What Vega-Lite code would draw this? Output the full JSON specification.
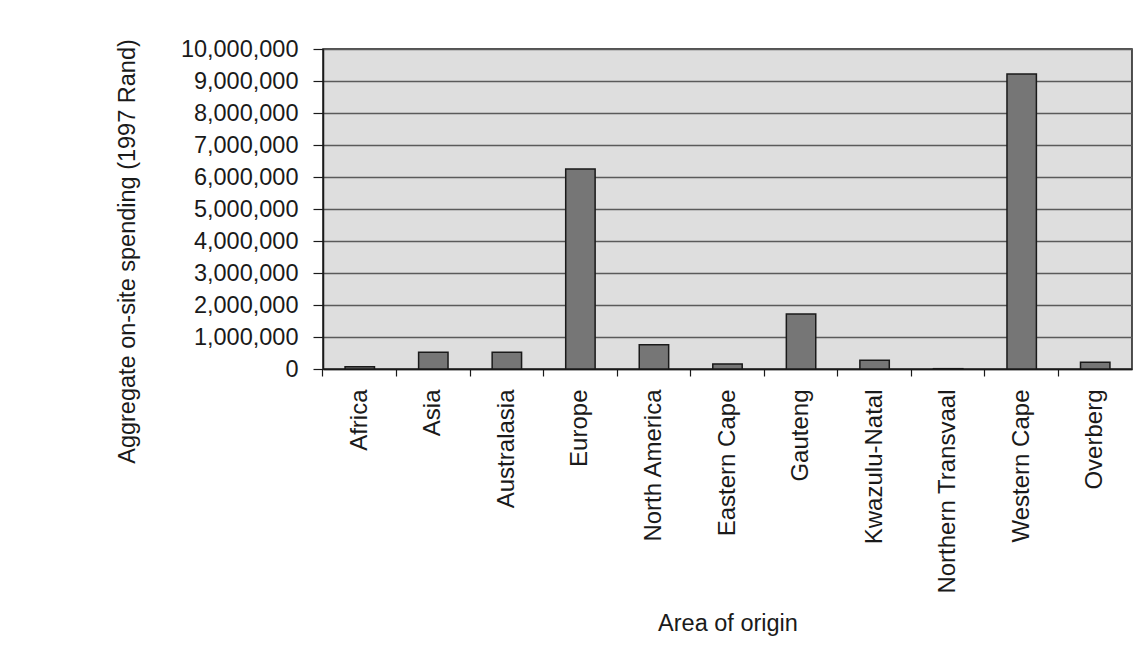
{
  "$schema": "https://vega.github.io/schema/vega-lite/v6.json",
  "autosize": {"type": "none"},
  "padding": {"left": 323, "top": 49, "right": 14, "bottom": 302},
  "width": 809,
  "height": 320,
  "background": "#ffffff",
  "data": {
    "values": [
      {"area": "Africa", "spending": 70000},
      {"area": "Asia", "spending": 520000},
      {"area": "Australasia", "spending": 520000},
      {"area": "Europe", "spending": 6250000},
      {"area": "North America", "spending": 755000},
      {"area": "Eastern Cape", "spending": 160000},
      {"area": "Gauteng", "spending": 1720000},
      {"area": "Kwazulu-Natal", "spending": 270000},
      {"area": "Northern Transvaal", "spending": 10000},
      {"area": "Western Cape", "spending": 9220000},
      {"area": "Overberg", "spending": 210000}
    ]
  },
  "mark": {"type": "bar", "fill": "#767676", "stroke": "#1a1a1a", "strokeWidth": 1.5},
  "encoding": {
    "x": {
      "field": "area",
      "type": "nominal",
      "sort": null,
      "scale": {"paddingInner": 0.6, "paddingOuter": 0.3},
      "axis": {
        "title": "Area of origin",
        "labelAngle": -90,
        "labelAlign": "right",
        "labelBaseline": "middle",
        "labelFontSize": 24,
        "bandPosition": -0.75,
        "labelPadding": 13,
        "tickSize": 7,
        "tickColor": "#1a1a1a",
        "tickWidth": 1.2,
        "domainColor": "#1a1a1a",
        "domainWidth": 1.5,
        "titlePadding": 42
      }
    },
    "y": {
      "field": "spending",
      "type": "quantitative",
      "scale": {"domain": [0, 10000000], "nice": false},
      "axis": {
        "title": "Aggregate on-site spending (1997 Rand)",
        "values": [0, 1000000, 2000000, 3000000, 4000000, 5000000, 6000000, 7000000, 8000000, 9000000, 10000000],
        "format": ",d",
        "tickSize": 10,
        "tickColor": "#1a1a1a",
        "tickWidth": 1.2,
        "labelPadding": 15,
        "domainColor": "#1a1a1a",
        "domainWidth": 1.5,
        "gridColor": "#5a5a5a",
        "gridWidth": 1.4,
        "titlePadding": 41,
        "titleY": 202
      }
    }
  },
  "config": {
    "font": "Liberation Sans",
    "view": {"fill": "#dedede", "stroke": "#1a1a1a", "strokeWidth": 1.5},
    "axis": {
      "labelFont": "Liberation Sans",
      "titleFont": "Liberation Sans",
      "labelFontSize": 23.5,
      "titleFontSize": 23.5,
      "titleFontWeight": "normal",
      "labelColor": "#1a1a1a",
      "titleColor": "#1a1a1a",
      "labelOverlap": false,
      "labelLimit": 0
    }
  }
}
